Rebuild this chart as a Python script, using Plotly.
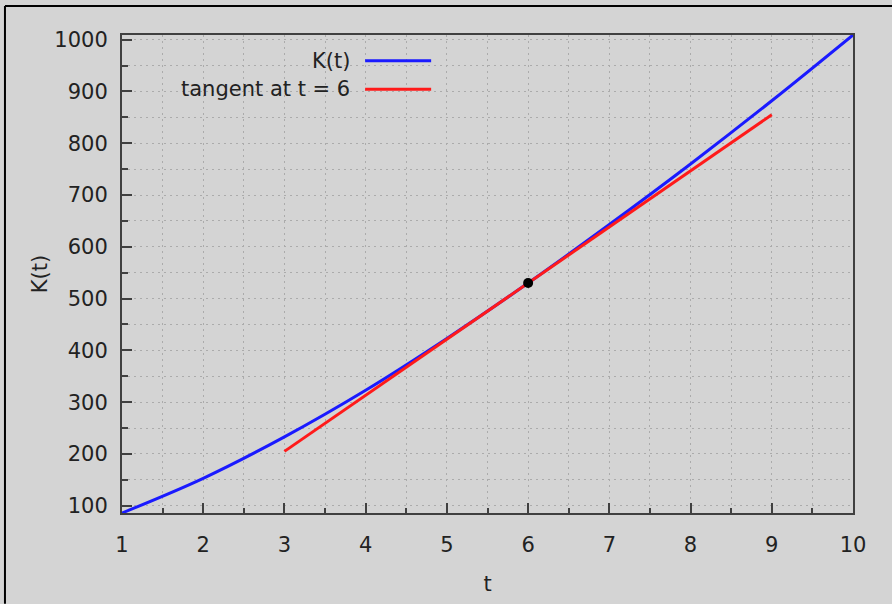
import plotly.graph_objects as go

# Data
t_vals = [1, 2, 3, 4, 5, 6, 7, 8, 9, 10]
k_vals = [86, 153, 233, 323, 423, 530, 643, 760, 882, 1009]
tan_t = [3, 9]
tan_k = [205, 855]
pt_t = [6]
pt_k = [530]
x_ticks = [1, 2, 3, 4, 5, 6, 7, 8, 9, 10]
y_ticks = [100, 200, 300, 400, 500, 600, 700, 800, 900, 1000]
legend_labels = ["K(t)", "tangent at t = 6"]

BG = "#d4d4d4"
FONT = "DejaVu Sans"
FS = 21
BLUE = "#1a1aff"
RED = "#ff1a1a"
GRID = "#ababab"
AX = "#404040"

fig = go.Figure()
fig.add_trace(go.Scatter(x=t_vals, y=k_vals, mode="lines", line=dict(color=BLUE, width=3, shape="spline"),
                         showlegend=False))
fig.add_trace(go.Scatter(x=tan_t, y=tan_k, mode="lines", line=dict(color=RED, width=3),
                         showlegend=False))
fig.add_trace(go.Scatter(x=pt_t, y=pt_k, mode="markers", marker=dict(color="black", size=10),
                         showlegend=False))

axis_common = dict(
    showline=True, linecolor=AX, linewidth=2, mirror=True,
    ticks="inside", ticklen=10, tickwidth=2, tickcolor=AX,
    showgrid=True, gridcolor=GRID, griddash="2px,4px", gridwidth=1,
    zeroline=False,
    tickfont=dict(family=FONT, size=FS, color="#222222"),
)

fig.update_xaxes(range=[1, 10], tickvals=x_ticks, ticktext=[str(v) for v in x_ticks],
                 minor=dict(dtick=0.5, tick0=1, ticks="inside", ticklen=5, tickwidth=2, tickcolor=AX,
                            showgrid=True, gridcolor=GRID, griddash="2px,4px", gridwidth=1),
                 title=dict(text="t", font=dict(family=FONT, size=FS, color="#222222"), standoff=20),
                 ticklabelstandoff=12,
                 **axis_common)
fig.update_yaxes(range=[86, 1009], tickvals=y_ticks, ticktext=[str(v) for v in y_ticks],
                 minor=dict(dtick=50, tick0=50, ticks="inside", ticklen=6, tickwidth=2, tickcolor=AX,
                            showgrid=True, gridcolor=GRID, griddash="2px,4px", gridwidth=1),
                 title=dict(text="K(t)", font=dict(family=FONT, size=FS, color="#222222"), standoff=1),
                 ticklabelstandoff=8,
                 **axis_common)

# gnuplot-style legend: text right-aligned, line sample to its right
legend_rows = [(0.9459, BLUE), (0.8863, RED)]
for label, (yp, col) in zip(legend_labels, legend_rows):
    fig.add_annotation(x=0.3144, y=yp, xref="paper", yref="paper", text=label, showarrow=False,
                       xanchor="right", yanchor="middle",
                       font=dict(family=FONT, size=FS, color="#222222"))
    fig.add_shape(type="line", xref="paper", yref="paper", x0=0.3326, x1=0.4229, y0=yp, y1=yp,
                  line=dict(color=col, width=3))

# outer image border (top and left edges visible in reference)
fig.add_shape(type="line", xref="paper", yref="paper", x0=-0.1601, x1=1.06, y0=1.0608, y1=1.0608,
              line=dict(color="black", width=2))
fig.add_shape(type="line", xref="paper", yref="paper", x0=-0.1601, x1=-0.1601, y0=-0.19, y1=1.0608,
              line=dict(color="black", width=2))

fig.update_layout(
    width=892, height=604,
    margin=dict(l=122, r=39, t=35, b=89),
    paper_bgcolor=BG, plot_bgcolor=BG,
    font=dict(family=FONT, size=FS, color="#222222"),
    showlegend=False,
)

fig.write_html("out.html", config={"displayModeBar": False},
               post_script="document.body.style.margin='0';document.body.style.overflow='hidden';")
